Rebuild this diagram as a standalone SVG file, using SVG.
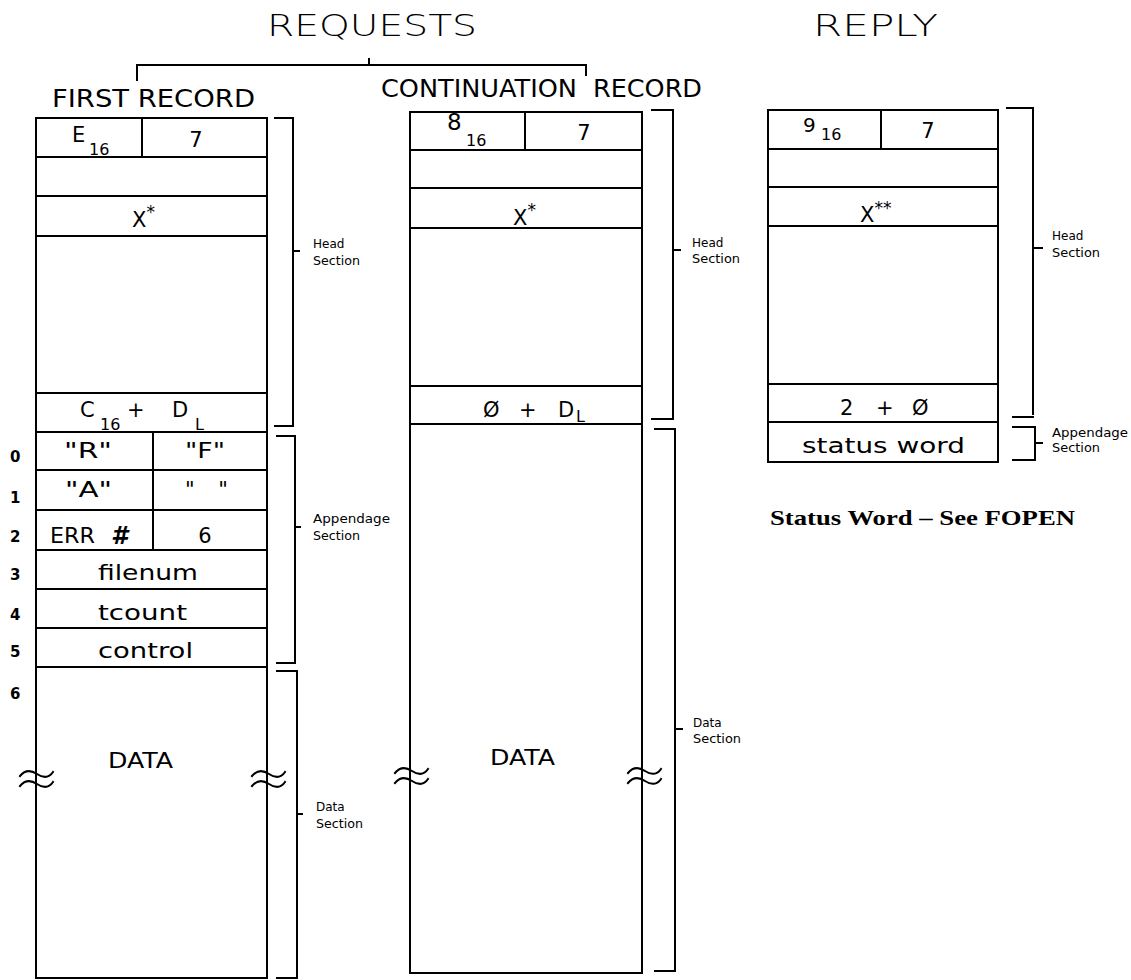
<svg xmlns="http://www.w3.org/2000/svg" width="1131" height="980" viewBox="0 0 1131 980">
<style>
.ln{stroke:#000;stroke-width:2;fill:none;stroke-linecap:square}
.t{font-family:"DejaVu Sans","Liberation Sans",Arial,sans-serif;fill:#000}
.big{font-size:31px;font-weight:200}
.hd{font-size:25px}
.c{font-size:21px}
.m{text-anchor:middle}
.sub{font-size:16px}
.sm{font-size:12px}
.num{font-size:15px;font-weight:bold}
.sw{font-family:"Liberation Serif","Times New Roman",serif;font-weight:bold;font-size:21px;fill:#000}
</style>
<rect width="1131" height="980" fill="#fff"/>

<g id="titles">
<text class="t big" x="267" y="36" textLength="210" lengthAdjust="spacingAndGlyphs">REQUESTS</text>
<text class="t big" x="813" y="36" textLength="125" lengthAdjust="spacingAndGlyphs">REPLY</text>
<text class="t hd" x="52" y="107" textLength="203" lengthAdjust="spacingAndGlyphs">FIRST RECORD</text>
<text class="t hd" x="381" y="97" textLength="196" lengthAdjust="spacingAndGlyphs">CONTINUATION</text>
<text class="t hd" x="593" y="97" textLength="109" lengthAdjust="spacingAndGlyphs">RECORD</text>
</g>

<g id="first-record">
<rect class="ln" x="36" y="118" width="231" height="860"/>
<path class="ln" d="M36,157H267M36,196H267M36,236H267M36,393H267M36,432H267M36,470H267M36,510H267M36,550H267M36,589H267M36,628H267M36,667H267M142,118V157M153,432V550"/>
<text class="t c" x="72" y="142">E</text>
<text class="t sub" x="89" y="155">16</text>
<text class="t c m" x="196" y="147">7</text>
<text class="t c" x="132" y="227">X<tspan font-size="17" dy="-9">*</tspan></text>
<text class="t c" x="80" y="417">C</text>
<text class="t sub" x="100" y="430">16</text>
<text class="t c" x="127" y="417">+</text>
<text class="t c" x="172" y="417">D</text>
<text class="t sub" x="195" y="430">L</text>
<text class="t c" x="64" y="458" textLength="48" lengthAdjust="spacingAndGlyphs">"R"</text>
<text class="t c" x="185" y="458" textLength="40" lengthAdjust="spacingAndGlyphs">"F"</text>
<text class="t c" x="65" y="497" textLength="47" lengthAdjust="spacingAndGlyphs">"A"</text>
<text class="t c" x="185" y="497" textLength="43">" "</text>
<text class="t c" x="50" y="543" textLength="45" lengthAdjust="spacingAndGlyphs">ERR</text>
<text class="t" x="111" y="544" font-size="24" font-weight="bold" font-style="italic">#</text>
<text class="t c m" x="205" y="543">6</text>
<text class="t c" x="98" y="580" textLength="100" lengthAdjust="spacingAndGlyphs">filenum</text>
<text class="t c" x="98" y="620" textLength="89" lengthAdjust="spacingAndGlyphs">tcount</text>
<text class="t c" x="98" y="658" textLength="95" lengthAdjust="spacingAndGlyphs">control</text>
<text class="t c" x="108" y="768" font-size="22" textLength="65" lengthAdjust="spacingAndGlyphs">DATA</text>
<g class="t num">
<text x="10" y="462">0</text>
<text x="10" y="503">1</text>
<text x="10" y="542">2</text>
<text x="10" y="580">3</text>
<text x="10" y="620">4</text>
<text x="10" y="657">5</text>
<text x="10" y="699">6</text>
</g>
<path class="ln" d="M20,776c5,-6 11,-6 17,-2s12,4 16,-2M20,786c5,-6 11,-6 17,-2s12,4 16,-2M252,776c5,-6 11,-6 17,-2s12,4 16,-2M252,786c5,-6 11,-6 17,-2s12,4 16,-2"/>
</g>

<g id="continuation-record">
<rect class="ln" x="410" y="112" width="232" height="861"/>
<path class="ln" d="M410,150H642M410,188H642M410,228H642M410,386H642M410,424H642M525,112V150"/>
<text class="t" x="447" y="130" font-size="23">8</text>
<text class="t sub" x="466" y="146">16</text>
<text class="t c m" x="584" y="140">7</text>
<text class="t c" x="513" y="225">X<tspan font-size="17" dy="-9">*</tspan></text>
<text class="t c" x="483" y="417">Ø</text>
<text class="t c" x="519" y="417">+</text>
<text class="t c" x="558" y="417">D</text>
<text class="t sub" x="576" y="422">L</text>
<text class="t c" x="490" y="765" font-size="22" textLength="65" lengthAdjust="spacingAndGlyphs">DATA</text>
<path class="ln" d="M395,773c5,-6 11,-6 17,-2s12,4 16,-2M395,783c5,-6 11,-6 17,-2s12,4 16,-2M628,773c5,-6 11,-6 17,-2s12,4 16,-2M628,783c5,-6 11,-6 17,-2s12,4 16,-2"/>
</g>

<g id="reply-record">
<rect class="ln" x="768" y="110" width="230" height="352"/>
<path class="ln" d="M768,149H998M768,187H998M768,226H998M768,384H998M768,422H998M881,110V149"/>
<text class="t" x="803" y="132" font-size="20">9</text>
<text class="t sub" x="821" y="140">16</text>
<text class="t c m" x="928" y="138">7</text>
<text class="t c" x="860" y="222">X<tspan font-size="17" dy="-8">**</tspan></text>
<text class="t c" x="840" y="415">2</text>
<text class="t c" x="876" y="415">+</text>
<text class="t c" x="912" y="415">Ø</text>
<text class="t c" x="802" y="453" textLength="163" lengthAdjust="spacingAndGlyphs">status word</text>
</g>

<g id="note">
<text class="sw" x="770" y="525" textLength="305" lengthAdjust="spacingAndGlyphs">Status Word – See FOPEN</text>
</g>

<g id="connectors">
<path class="ln" d="M369,59V65M137,80V65H586V75"/>
<path class="ln" d="M275,118H293V426H275M293,251H299"/>
<path class="ln" d="M277,436H295V663H277M295,527H300"/>
<path class="ln" d="M277,671H297V978H277M297,814H302"/>
<path class="ln" d="M652,110H673V419H652M673,250H680"/>
<path class="ln" d="M655,429H675V971H655M675,729H682"/>
<path class="ln" d="M1007,108H1033V414M1013,417H1033M1033,248H1042"/>
<path class="ln" d="M1013,427H1035V460H1013M1035,443H1042"/>
</g>

<g id="section-labels" class="t sm">
<text x="313" y="248">Head</text>
<text x="313" y="265" textLength="47" lengthAdjust="spacingAndGlyphs">Section</text>
<text x="313" y="523" textLength="77" lengthAdjust="spacingAndGlyphs">Appendage</text>
<text x="313" y="540" textLength="47" lengthAdjust="spacingAndGlyphs">Section</text>
<text x="316" y="811">Data</text>
<text x="316" y="828" textLength="47" lengthAdjust="spacingAndGlyphs">Section</text>
<text x="692" y="247">Head</text>
<text x="692" y="263" textLength="48" lengthAdjust="spacingAndGlyphs">Section</text>
<text x="693" y="727">Data</text>
<text x="693" y="743" textLength="48" lengthAdjust="spacingAndGlyphs">Section</text>
<text x="1052" y="240">Head</text>
<text x="1052" y="257" textLength="48" lengthAdjust="spacingAndGlyphs">Section</text>
<text x="1052" y="437" textLength="76" lengthAdjust="spacingAndGlyphs">Appendage</text>
<text x="1052" y="452" textLength="48" lengthAdjust="spacingAndGlyphs">Section</text>
</g>
</svg>
